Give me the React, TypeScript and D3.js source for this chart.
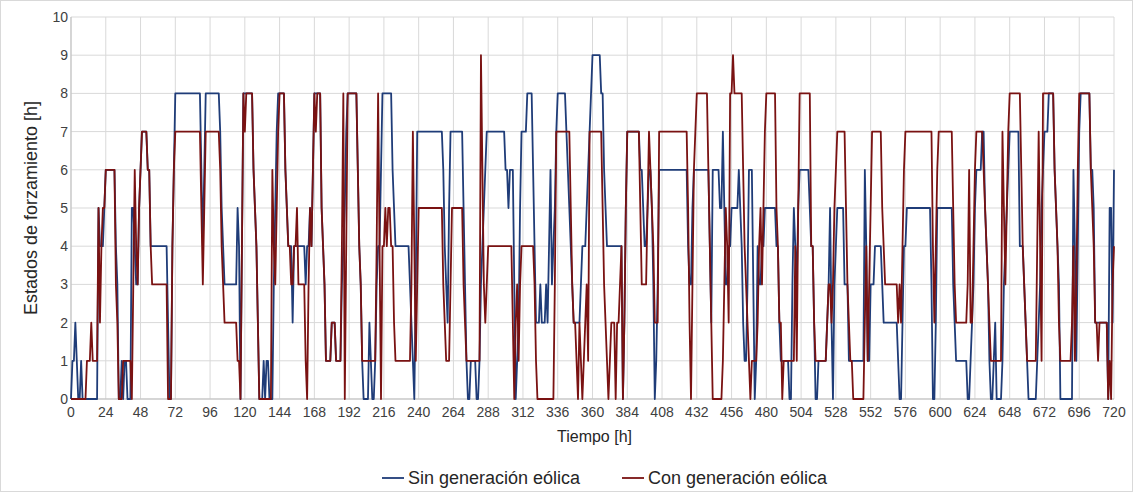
import React from "react";
import * as d3 from "d3";

// Change points [hour, state]: the state holds from that hour until the next change point.
const sinChanges: [number, number][] = [
  [0,0],[1,1],[2,1],[3,2],[4,1],[5,0],[6,0],[7,1],[8,0],
  [18,0],[19,5],[20,4],[22,4],[23,5],[24,6],[30,6],[31,4],[32,3],[33,0],[34,0],[35,1],[36,0],[37,1],[38,1],[39,0],[41,0],[42,5],[43,5],[44,4],[45,3],[46,3],[47,5],[48,6],[49,7],[52,7],[53,6],[54,6],[55,4],[66,4],[67,2],[68,0],[69,0],[70,4],[71,6],[72,8],[89,8],[90,6],[91,4],[92,6],[93,8],[102,8],[103,7],[104,5],[105,4],[106,3],[114,3],[115,5],[116,4],[117,0],[118,4],[119,8],[125,8],[126,6],[127,5],[128,4],[129,2],[130,0],[132,0],[133,1],[134,0],[135,1],[136,1],[137,0],[139,0],[140,3],[141,5],[142,7],[143,8],[147,8],[148,6],[149,5],[150,4],[152,4],[153,2],[154,4],[161,4],[162,3],[163,4],[164,4],[165,5],[166,4],[167,6],[168,8],[172,8],[173,5],[174,4],[175,3],[176,1],[179,1],[180,2],[182,2],[183,1],[186,1],[187,3],[188,4],[189,5],[190,7],[191,8],[197,8],[198,6],[199,4],[200,3],[201,1],[202,0],[205,0],[206,2],[207,1],[208,0],[209,0],[210,1],[211,3],[212,4],[213,4],[214,6],[215,8],[221,8],[222,6],[223,5],[224,4],[233,4],[234,3],[235,2],[236,1],[237,0],[238,3],[239,7],[256,7],[257,6],[258,4],[259,3],[260,2],[261,5],[262,7],[270,7],[271,5],[272,3],[273,1],[274,0],[275,0],[276,1],[279,1],[280,0],[281,0],[282,1],[283,3],[284,4],[285,5],[286,6],[287,7],[299,7],[300,6],[301,6],[302,5],[303,6],[305,6],[306,3],[307,0],[308,1],[309,2],[310,5],[311,7],[314,7],[315,8],[318,8],[319,6],[320,4],[321,2],[323,2],[324,3],[325,2],[327,2],[328,3],[329,2],[330,4],[331,6],[332,3],[333,4],[334,5],[335,7],[336,8],[341,8],[342,7],[343,6],[344,5],[345,4],[346,3],[347,2],[351,2],[352,3],[353,4],[355,4],[356,5],[357,6],[358,7],[359,8],[360,9],[365,9],[366,8],[367,8],[368,6],[369,5],[370,4],[380,4],[381,0],[382,2],[383,5],[384,7],[392,7],[393,6],[394,6],[395,5],[396,4],[397,4],[398,5],[399,6],[400,6],[401,5],[402,3],[403,0],[404,1],[405,3],[406,6],[425,6],[426,4],[427,3],[428,3],[429,5],[430,6],[440,6],[441,4],[442,2],[443,6],[447,6],[448,5],[449,5],[450,7],[451,5],[452,3],[453,3],[454,4],[455,4],[456,5],[460,5],[461,6],[462,5],[463,4],[464,2],[465,1],[466,1],[467,3],[468,6],[470,6],[471,3],[472,0],[473,1],[474,4],[475,3],[476,3],[477,4],[478,4],[479,5],[486,5],[487,4],[488,4],[489,2],[490,1],[495,1],[496,0],[497,0],[498,3],[499,5],[500,4],[501,3],[502,5],[503,6],[509,6],[510,5],[511,4],[512,4],[513,2],[514,0],[515,0],[516,1],[521,1],[522,2],[523,3],[524,5],[525,2],[526,0],[527,3],[528,4],[529,5],[533,5],[534,3],[536,3],[537,1],[547,1],[548,6],[549,4],[550,1],[551,1],[552,3],[554,3],[555,4],[559,4],[560,3],[561,2],[570,2],[571,1],[572,0],[573,0],[574,2],[575,4],[576,4],[577,5],[593,5],[594,3],[595,0],[596,0],[597,2],[598,5],[608,5],[609,3],[610,2],[611,1],[618,1],[619,0],[620,0],[621,1],[622,2],[623,3],[624,5],[625,6],[628,6],[629,7],[630,7],[631,5],[632,4],[633,3],[634,1],[635,0],[636,0],[637,1],[638,2],[639,0],[642,0],[643,1],[644,3],[645,4],[646,5],[647,6],[648,7],[654,7],[655,4],[657,4],[658,3],[659,2],[660,1],[661,0],[666,0],[667,1],[668,2],[669,3],[670,5],[671,6],[672,7],[674,7],[675,8],[678,8],[679,6],[680,5],[681,4],[682,3],[683,0],[691,0],[692,6],[693,4],[694,1],[695,4],[696,7],[697,8],[703,8],[704,6],[705,6],[706,5],[707,2],[715,2],[716,0],[717,5],[718,5],[719,2],[720,6]
];

const conChanges: [number, number][] = [
  [0,0],[10,0],[11,1],[13,1],[14,2],[15,1],[18,1],[19,5],[20,2],[21,4],[22,5],[23,5],[24,6],[30,6],[31,3],[32,2],[33,0],[35,0],[36,1],[41,1],[42,0],[43,3],[44,6],[45,4],[46,3],[47,5],[48,6],[49,7],[52,7],[53,6],[54,6],[55,4],[56,3],[66,3],[67,0],[69,0],[70,4],[71,6],[72,7],[89,7],[90,5],[91,3],[92,5],[93,7],[102,7],[103,6],[104,4],[105,3],[106,2],[114,2],[115,1],[116,1],[117,0],[118,4],[119,8],[120,7],[121,8],[125,8],[126,6],[127,5],[128,4],[129,2],[130,0],[138,0],[139,6],[140,4],[141,3],[142,5],[143,7],[144,8],[147,8],[148,6],[149,5],[150,4],[151,4],[152,3],[153,3],[154,4],[155,4],[156,5],[157,3],[161,3],[162,1],[163,0],[164,3],[165,5],[166,4],[167,6],[168,8],[169,7],[170,8],[172,8],[173,5],[174,4],[175,3],[176,1],[179,1],[180,2],[182,2],[183,1],[186,1],[187,4],[188,8],[189,0],[190,4],[191,8],[197,8],[198,6],[199,4],[200,3],[201,1],[210,1],[211,4],[212,8],[213,4],[214,0],[215,4],[216,4],[217,5],[218,4],[219,5],[220,5],[221,4],[222,4],[223,2],[224,1],[234,1],[235,3],[236,7],[237,4],[238,1],[239,3],[240,5],[256,5],[257,3],[258,2],[259,1],[261,1],[262,3],[263,5],[270,5],[271,3],[272,2],[273,1],[282,1],[283,9],[284,6],[285,3],[286,2],[287,3],[288,4],[304,4],[305,2],[306,0],[307,2],[308,3],[309,1],[310,3],[311,4],[319,4],[320,3],[321,1],[322,0],[333,0],[334,3],[335,7],[344,7],[345,5],[346,3],[347,2],[348,2],[349,1],[350,0],[351,2],[352,1],[353,0],[354,1],[355,2],[356,3],[357,1],[358,7],[366,7],[367,5],[368,3],[369,2],[370,1],[371,0],[372,1],[373,2],[375,2],[376,0],[377,2],[378,2],[379,3],[380,4],[381,0],[382,2],[383,5],[384,7],[392,7],[393,5],[394,3],[397,3],[398,5],[399,7],[400,6],[401,5],[402,4],[403,2],[405,2],[406,7],[425,7],[426,5],[427,2],[428,0],[429,3],[430,6],[431,7],[432,8],[439,8],[440,6],[441,4],[442,2],[443,0],[449,0],[450,1],[451,3],[452,5],[453,4],[454,2],[455,8],[456,8],[457,9],[458,8],[463,8],[464,6],[465,4],[466,3],[467,2],[468,1],[469,0],[470,1],[473,1],[474,2],[475,4],[476,5],[477,3],[478,5],[479,7],[480,8],[486,8],[487,5],[488,4],[489,2],[490,2],[491,0],[492,1],[499,1],[500,4],[501,1],[502,5],[503,8],[510,8],[511,4],[512,4],[513,2],[514,1],[521,1],[522,2],[523,3],[524,3],[525,2],[526,3],[527,5],[528,6],[529,7],[534,7],[535,5],[536,3],[537,2],[538,1],[539,1],[540,0],[547,0],[548,2],[549,4],[550,1],[551,3],[552,5],[553,7],[559,7],[560,5],[561,4],[562,3],[570,3],[571,2],[572,3],[573,2],[574,4],[575,6],[576,7],[594,7],[595,4],[596,2],[597,4],[598,6],[599,7],[608,7],[609,5],[610,3],[611,2],[618,2],[619,3],[620,6],[621,2],[622,2],[623,4],[624,6],[625,7],[629,7],[630,6],[631,5],[632,4],[633,3],[634,2],[635,1],[642,1],[643,7],[644,5],[645,3],[646,5],[647,7],[648,8],[655,8],[656,6],[657,4],[658,3],[659,2],[660,1],[666,1],[667,4],[668,7],[669,4],[670,1],[671,8],[678,8],[679,6],[680,5],[681,4],[682,2],[683,1],[690,1],[691,2],[692,4],[693,1],[694,3],[695,6],[696,8],[703,8],[704,6],[705,5],[706,4],[707,2],[709,1],[710,2],[715,2],[716,0],[717,1],[718,0],[719,3],[720,4]
];

const xTicks: number[] = [0,24,48,72,96,120,144,168,192,216,240,264,288,312,336,360,384,408,432,456,480,504,528,552,576,600,624,648,672,696,720];
const yTicks: number[] = [0,1,2,3,4,5,6,7,8,9,10];
const seriesNames: string[] = ["Sin generación eólica", "Con generación eólica"];
const seriesColors: string[] = ["#1f3c78", "#7a1212"];

function expand(changes: [number, number][]): [number, number][] {
  const out: [number, number][] = [];
  let idx = 0;
  for (let h = 0; h <= 720; h++) {
    while (idx + 1 < changes.length && changes[idx + 1][0] <= h) idx++;
    out.push([h, changes[idx][1]]);
  }
  return out;
}

const W = 1139, H = 493;
const M = { left: 71, right: 1114, top: 17, bottom: 399 };
const FONT = "'Liberation Sans', Arial, sans-serif";

export default function App() {
  const x = d3.scaleLinear().domain([0, 720]).range([M.left, M.right]);
  const y = d3.scaleLinear().domain([0, 10]).range([M.bottom, M.top]);
  const line = d3.line<[number, number]>().x(d => x(d[0])).y(d => y(d[1]));
  const data = [expand(sinChanges), expand(conChanges)];

  return (
    <svg width={W} height={H} style={{ position: "absolute", left: 0, top: 0, background: "#fff" }} fontFamily={FONT}>
      <rect x={0.5} y={0.5} width={W - 7} height={H - 2} fill="#fff" stroke="#d9d9d9" />
      {yTicks.map(t => (
        <line key={"gy" + t} x1={M.left} x2={M.right} y1={y(t)} y2={y(t)} stroke="#d9d9d9" strokeWidth={1} />
      ))}
      {xTicks.map(t => (
        <line key={"gx" + t} x1={x(t)} x2={x(t)} y1={M.top} y2={M.bottom} stroke="#d9d9d9" strokeWidth={1} />
      ))}
      <line x1={M.left} x2={M.right} y1={M.bottom} y2={M.bottom} stroke="#bfbfbf" />
      <line x1={M.left} x2={M.left} y1={M.top} y2={M.bottom} stroke="#bfbfbf" />
      {data.map((d, i) => (
        <path key={"s" + i} d={line(d) || ""} fill="none" stroke={seriesColors[i]} strokeWidth={1.8} strokeLinejoin="round" />
      ))}
      {yTicks.map(t => (
        <text key={"ty" + t} x={M.left - 3} y={y(t) + 5} textAnchor="end" fontSize={14} fill="#404040">{t}</text>
      ))}
      {xTicks.map(t => (
        <text key={"tx" + t} x={x(t)} y={M.bottom + 18} textAnchor="middle" fontSize={14} fill="#404040">{t}</text>
      ))}
      <text x={(M.left + M.right) / 2 + 2} y={442} textAnchor="middle" fontSize={16} fill="#262626">Tiempo [h]</text>
      <text transform={`translate(37,${(M.top + M.bottom) / 2}) rotate(-90)`} textAnchor="middle" fontSize={18} fill="#262626">Estados de forzamiento [h]</text>
      <g>
        <line x1={382} x2={404} y1={478} y2={478} stroke={seriesColors[0]} strokeWidth={1.8} />
        <text x={408} y={484} fontSize={18} fill="#262626">{seriesNames[0]}</text>
        <line x1={622} x2={644} y1={478} y2={478} stroke={seriesColors[1]} strokeWidth={1.8} />
        <text x={648} y={484} fontSize={18} fill="#262626">{seriesNames[1]}</text>
      </g>
    </svg>
  );
}
